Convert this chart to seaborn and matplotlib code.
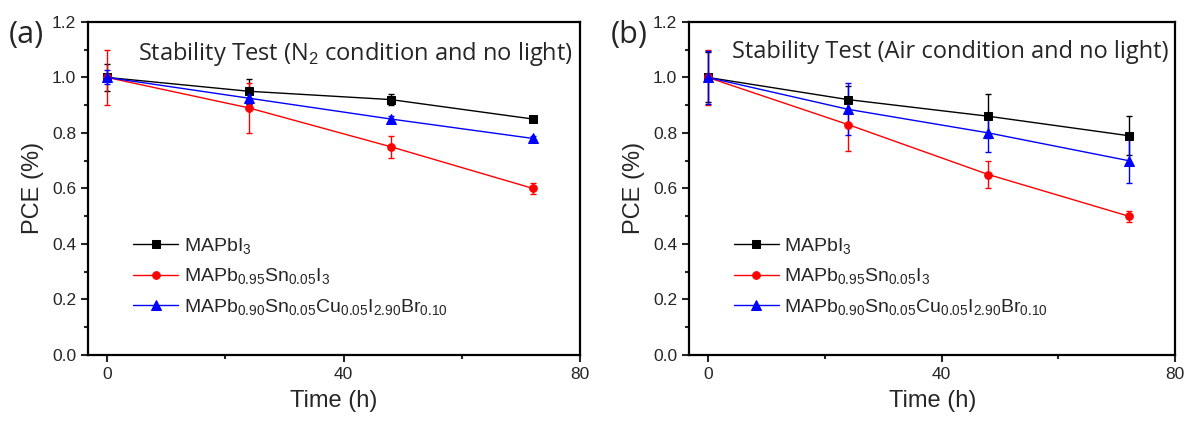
import numpy as np
import pandas as pd
import seaborn as sns
import matplotlib.pyplot as plt
from matplotlib.ticker import MultipleLocator

sns.set_style("ticks")
plt.rcParams['font.family'] = ['Liberation Sans', 'DejaVu Sans']
plt.rcParams['mathtext.fontset'] = 'custom'
plt.rcParams['mathtext.rm'] = 'Liberation Sans'

time_h = [0, 24, 48, 72]
series_names = [r"$\mathregular{MAPbI_3}$",
                r"$\mathregular{MAPb_{0.95}Sn_{0.05}I_3}$",
                r"$\mathregular{MAPb_{0.90}Sn_{0.05}Cu_{0.05}I_{2.90}Br_{0.10}}$"]
colors = ["black", "red", "blue"]
markers = ["s", "o", "^"]

# Panel (a): N2 condition
a_mapbi3 = [1.00, 0.95, 0.92, 0.85]
a_mapbi3_err = [0.05, 0.045, 0.02, 0.01]
a_sn = [1.00, 0.89, 0.75, 0.60]
a_sn_err = [0.10, 0.09, 0.04, 0.02]
a_cu = [1.00, 0.925, 0.85, 0.78]
a_cu_err = [0.025, 0.02, 0.01, 0.01]

# Panel (b): Air condition
b_mapbi3 = [1.00, 0.92, 0.86, 0.79]
b_mapbi3_err = [0.09, 0.05, 0.08, 0.07]
b_sn = [1.00, 0.83, 0.65, 0.50]
b_sn_err = [0.10, 0.095, 0.05, 0.02]
b_cu = [1.00, 0.885, 0.80, 0.70]
b_cu_err = [0.095, 0.093, 0.07, 0.08]

panels = [
    ("(a)", "Stability Test (N$_2$ condition and no light)",
     [a_mapbi3, a_sn, a_cu], [a_mapbi3_err, a_sn_err, a_cu_err]),
    ("(b)", "Stability Test (Air condition and no light)",
     [b_mapbi3, b_sn, b_cu], [b_mapbi3_err, b_sn_err, b_cu_err]),
]

fig = plt.figure(figsize=(11.86, 4.21), dpi=100)
axes_rects = [[0.0742, 0.157, 0.415, 0.791], [0.581, 0.157, 0.410, 0.791]]

for rect, (tag, title, vals, errs) in zip(axes_rects, panels):
    ax = fig.add_axes(rect)
    for name, v, e, c, m in zip(series_names, vals, errs, colors, markers):
        df = pd.DataFrame({"Time": time_h, "PCE": v})
        ax.errorbar(time_h, v, yerr=e, fmt='none', ecolor=c, elinewidth=1.0,
                    capsize=2.5, capthick=1.0, zorder=2)
        sns.lineplot(data=df, x="Time", y="PCE", ax=ax, color=c, marker=m,
                     markersize=5.5 if m != "^" else 6.5, markeredgecolor=c,
                     linewidth=1.0, label=name, zorder=3)
    ax.set_xlim(-3.2, 80)
    ax.set_ylim(0, 1.2)
    ax.xaxis.set_major_locator(MultipleLocator(40))
    ax.xaxis.set_minor_locator(MultipleLocator(20))
    ax.yaxis.set_major_locator(MultipleLocator(0.2))
    ax.yaxis.set_minor_locator(MultipleLocator(0.1))
    ax.yaxis.set_major_formatter(plt.FuncFormatter(lambda y, p: f"{y:.1f}"))
    ax.tick_params(which='major', direction='out', length=5, width=1.5,
                   labelsize=12.5, top=False, right=False)
    ax.tick_params(which='minor', direction='out', length=3, width=1.5,
                   top=False, right=False)
    for sp in ax.spines.values():
        sp.set_visible(True)
        sp.set_linewidth(1.6)
        sp.set_color("black")
    ax.set_xlabel("Time (h)", fontsize=17, labelpad=6)
    ax.set_ylabel("PCE (%)", fontsize=17, labelpad=6)
    ax.text(0.985, 0.945, title, transform=ax.transAxes, ha='right', va='top',
            fontsize=17, family=['Open Sans', 'DejaVu Sans'])
    ax.text(-0.162, 0.962, tag, transform=ax.transAxes, ha='left', va='center',
            fontsize=22, family=['Open Sans', 'DejaVu Sans'])
    leg = ax.legend(loc='lower left', bbox_to_anchor=(0.076, 0.09), frameon=False,
                    fontsize=14, handlelength=2.3, handletextpad=0.3,
                    labelspacing=0.55, borderaxespad=0)

fig.savefig("out.png", dpi=100)
